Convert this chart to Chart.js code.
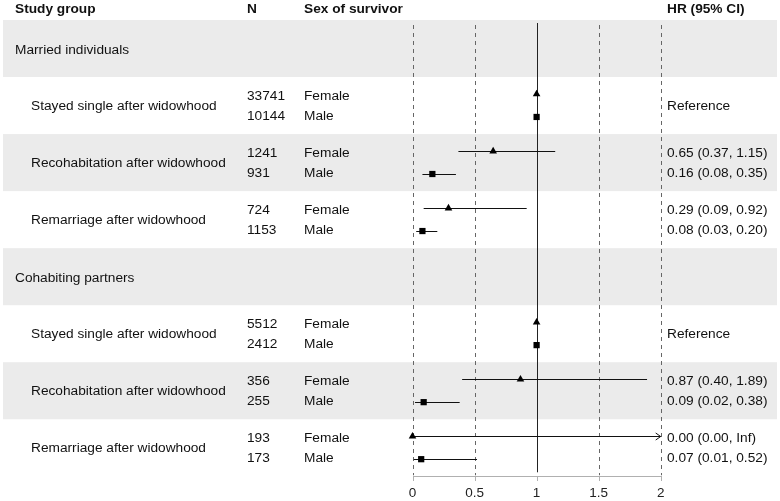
<!DOCTYPE html>
<html>
<head>
<meta charset="utf-8">
<script src="https://cdn.jsdelivr.net/npm/chart.js@4"></script>
<style>
  html, body { margin: 0; padding: 0; background: #fff; }
  canvas { display: block; }
</style>
</head>
<body>
<canvas id="forest_chart" width="780" height="501"></canvas>
<script>
var groups = ['Married individuals', 'Cohabiting partners'];
var subgroups = ['Stayed single after widowhood', 'Recohabitation after widowhood', 'Remarriage after widowhood'];
var sexLabels = ['Female', 'Male'];
var headers = ['Study group', 'N', 'Sex of survivor', 'HR (95% CI)'];

var nFemale = [33741, 1241, 724, 5512, 356, 193];
var nMale = [10144, 931, 1153, 2412, 255, 173];

var hrFemale = [1, 0.65, 0.29, 1, 0.87, 0.00];
var loFemale = [null, 0.37, 0.09, null, 0.40, 0.00];
var hiFemale = [null, 1.15, 0.92, null, 1.89, Infinity];

var hrMale = [1, 0.16, 0.08, 1, 0.09, 0.07];
var loMale = [null, 0.08, 0.03, null, 0.02, 0.01];
var hiMale = [null, 0.35, 0.20, null, 0.38, 0.52];

var xTicks = [0, 0.5, 1, 1.5, 2];

var FONT = '"Liberation Sans", Arial, sans-serif';
var ROW_SHIFT = 0.2;

// band index of data row k (each group has a header band + 3 rows)
function bandOf(k) {
    return Math.floor(k / 3) * 4 + 1 + (k % 3);
}

function fmt(v) {
    return v === Infinity ? 'Inf' : v.toFixed(2);
}

function hrText(hr, lo, hi) {
    if (lo === null) return null;
    return fmt(hr) + ' (' + fmt(lo) + ', ' + fmt(hi) + ')';
}

var forestPlugin = {
    id: 'forest',
    beforeDraw: function (chart) {
        var ctx = chart.ctx;
        var y = chart.scales.y;
        ctx.save();
        ctx.fillStyle = '#ebebeb';
        for (var b = 0; b < 8; b += 2) {
            var top = y.getPixelForValue(b);
            var bot = y.getPixelForValue(b + 1);
            ctx.fillRect(3, top, 774, bot - top);
        }
        ctx.restore();
    },
    beforeDatasetsDraw: function (chart) {
        var ctx = chart.ctx;
        var x = chart.scales.x;
        var area = chart.chartArea;
        ctx.save();
        ctx.lineWidth = 1;

        // reference lines
        xTicks.forEach(function (t) {
            var px = Math.round(x.getPixelForValue(t)) + 0.5;
            ctx.beginPath();
            if (t === 1) {
                ctx.setLineDash([]);
                ctx.strokeStyle = '#222';
                ctx.moveTo(px, area.top + 3);
                ctx.lineTo(px, area.bottom - 4);
            } else {
                ctx.setLineDash([4, 4]);
                ctx.strokeStyle = '#666';
                ctx.moveTo(px, area.top + 5);
                ctx.lineTo(px, area.bottom - 1);
            }
            ctx.stroke();
        });
        ctx.setLineDash([]);

        // confidence intervals
        function whisker(lo, hi, yv) {
            if (lo === null) return;
            var py = Math.round(chart.scales.y.getPixelForValue(yv)) + 0.5;
            var x0 = x.getPixelForValue(lo);
            var inf = hi === Infinity;
            var x1 = x.getPixelForValue(inf ? x.max : hi);
            ctx.beginPath();
            ctx.strokeStyle = '#111';
            ctx.moveTo(x0, py);
            ctx.lineTo(x1, py);
            if (inf) {
                ctx.moveTo(x1 - 5, py - 3.5);
                ctx.lineTo(x1, py);
                ctx.lineTo(x1 - 5, py + 3.5);
            }
            ctx.stroke();
        }
        for (var k = 0; k < hrFemale.length; k++) {
            whisker(loFemale[k], hiFemale[k], bandOf(k) + 0.5 - ROW_SHIFT);
            whisker(loMale[k], hiMale[k], bandOf(k) + 0.5 + ROW_SHIFT);
        }
        ctx.restore();
    },
    afterDraw: function (chart) {
        var ctx = chart.ctx;
        var x = chart.scales.x;
        var y = chart.scales.y;
        var cols = [15, 247, 304, 667];
        ctx.save();

        // x axis line and tick marks
        var ay = Math.round(chart.chartArea.bottom);
        var ax0 = Math.round(x.getPixelForValue(x.min));
        var ax1 = Math.round(x.getPixelForValue(x.max));
        ctx.fillStyle = '#b0b0b0';
        ctx.fillRect(ax0, ay, ax1 - ax0 + 1, 1);
        xTicks.forEach(function (t) {
            ctx.fillRect(Math.round(x.getPixelForValue(t)), ay, 1, 5);
        });

        ctx.fillStyle = '#111';
        ctx.textBaseline = 'middle';
        ctx.textAlign = 'left';

        ctx.font = 'bold 13.7px ' + FONT;
        headers.forEach(function (h, i) {
            ctx.fillText(h, cols[i], 9);
        });

        ctx.font = '13.7px ' + FONT;
        groups.forEach(function (g, i) {
            ctx.fillText(g, 15, y.getPixelForValue(i * 4 + 0.5) + 1.5);
        });
        for (var k = 0; k < hrFemale.length; k++) {
            var cy = y.getPixelForValue(bandOf(k) + 0.5);
            ctx.fillText(subgroups[k % 3], 31, cy + 0.3);
            ctx.fillText(String(nFemale[k]), 247, cy - 9.2);
            ctx.fillText(String(nMale[k]), 247, cy + 10.8);
            ctx.fillText(sexLabels[0], 304, cy - 9.2);
            ctx.fillText(sexLabels[1], 304, cy + 10.8);
            var tf = hrText(hrFemale[k], loFemale[k], hiFemale[k]);
            var tm = hrText(hrMale[k], loMale[k], hiMale[k]);
            if (tf === null) {
                ctx.fillText('Reference', 667, cy + 0.8);
            } else {
                ctx.fillText(tf, 667, cy - 9.2);
                ctx.fillText(tm, 667, cy + 10.8);
            }
        }
        ctx.restore();
    }
};

function pointsOf(values, shift) {
    return values.map(function (v, k) {
        return { x: v, y: bandOf(k) + 0.5 + shift };
    });
}

new Chart(document.getElementById('forest_chart').getContext('2d'), {
    type: 'scatter',
    data: {
        datasets: [{
            label: 'Female',
            data: pointsOf(hrFemale, -ROW_SHIFT),
            pointStyle: 'triangle',
            pointRadius: 4.4,
            pointBorderWidth: 0,
            backgroundColor: '#000',
            clip: false
        }, {
            label: 'Male',
            data: pointsOf(hrMale, ROW_SHIFT),
            pointStyle: 'rect',
            pointRadius: 4.4,
            pointBorderWidth: 0,
            backgroundColor: '#000',
            clip: false
        }]
    },
    options: {
        responsive: false,
        animation: false,
        layout: {
            padding: { left: 412.5, right: 119.3, top: 20, bottom: -5.5 }
        },
        plugins: {
            legend: { display: false },
            tooltip: { enabled: false }
        },
        scales: {
            x: {
                type: 'linear',
                min: 0,
                max: 2,
                afterBuildTicks: function (axis) {
                    axis.ticks = xTicks.map(function (v) { return { value: v }; });
                },
                grid: { display: false, drawTicks: true, tickLength: 4 },
                border: { display: false },
                ticks: {
                    padding: 5,
                    color: '#222',
                    font: { family: FONT, size: 13.5 },
                    callback: function (v) { return String(v); }
                }
            },
            y: {
                type: 'linear',
                display: false,
                reverse: true,
                min: 0,
                max: 8
            }
        }
    },
    plugins: [forestPlugin]
});
</script>
</body>
</html>
